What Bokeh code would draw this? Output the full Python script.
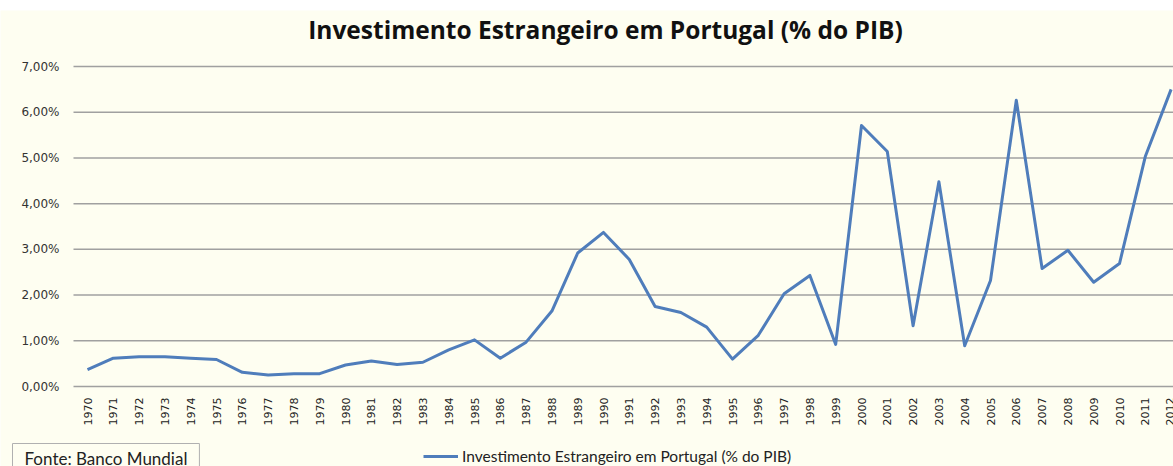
import math
from bokeh.plotting import figure
from bokeh.models import (Range1d, FixedTicker, Label, Legend, LegendItem)
from bokeh.embed import file_html
from bokeh.resources import INLINE

title_text = "Investimento Estrangeiro em Portugal (% do PIB)"
series_name = "Investimento Estrangeiro em Portugal (% do PIB)"
source_text = "Fonte: Banco Mundial"

years = list(range(1970, 2013))
values = [0.37, 0.62, 0.65, 0.65, 0.62, 0.59, 0.31, 0.25, 0.28, 0.28,
          0.47, 0.56, 0.48, 0.53, 0.80, 1.02, 0.62, 0.97, 1.65, 2.92,
          3.37, 2.78, 1.75, 1.62, 1.30, 0.60, 1.12, 2.03, 2.43, 0.92,
          5.71, 5.14, 1.33, 4.48, 0.89, 2.32, 6.26, 2.58, 2.98, 2.28,
          2.69, 5.03, 6.50]
y_ticks = [0, 1, 2, 3, 4, 5, 6, 7]
y_tick_labels = ["0,00%", "1,00%", "2,00%", "3,00%", "4,00%", "5,00%", "6,00%", "7,00%"]

BG = "#FEFEF1"
LINE = "#4F7DBB"
W, H = 1173, 466
TOP_WHITE = 10

# pixel layout of the plotting area (canvas coords)
PX_LEFT, PX_1970, PX_STEP = 73, 87, 25.8
PX_ZERO, PX_SEVEN = 386, 66
y_per_px = 7 / (PX_ZERO - PX_SEVEN)

x0 = years[0] - PX_1970 / PX_STEP
x1 = years[0] + (W - PX_1970) / PX_STEP
y0 = -(H - PX_ZERO) * y_per_px
y1 = 7 + (PX_SEVEN - TOP_WHITE) * y_per_px
x_axis_left = years[0] - (PX_1970 - PX_LEFT) / PX_STEP

p = figure(width=W, height=H, output_backend="svg", toolbar_location=None,
           x_range=Range1d(x0, x1), y_range=Range1d(y0, y1),
           min_border=0, min_border_top=TOP_WHITE)
p.background_fill_color = BG
p.border_fill_color = "white"
p.outline_line_color = None
p.xgrid.visible = False
p.ygrid.visible = False

# horizontal gridlines at the y ticks, across the plotting area only
p.segment(x0=[x_axis_left] * len(y_ticks), x1=[x1] * len(y_ticks),
          y0=y_ticks, y1=y_ticks, line_color="#A0A0A0", line_width=1.5)

r = p.line(years, values, line_color=LINE, line_width=3, line_join="round")

# axes drawn at fixed locations inside the frame
p.xaxis.fixed_location = 0
p.xaxis.ticker = FixedTicker(ticks=years)
p.xaxis.major_label_orientation = math.pi / 2
p.xaxis.axis_line_color = None
p.xaxis.major_tick_line_color = None
p.xaxis.minor_tick_line_color = None
p.xaxis.major_tick_out = 0
p.xaxis.major_tick_in = 0
p.xaxis.major_label_standoff = 11
p.xaxis.major_label_text_font = "DejaVu Sans"
p.xaxis.major_label_text_font_size = "11px"
p.xaxis.major_label_text_color = "#222222"

p.yaxis.fixed_location = x_axis_left
p.yaxis.ticker = FixedTicker(ticks=y_ticks)
p.yaxis.major_label_overrides = {t: l for t, l in zip(y_ticks, y_tick_labels)}
p.yaxis.axis_line_color = None
p.yaxis.major_tick_line_color = None
p.yaxis.minor_tick_line_color = None
p.yaxis.major_tick_out = 0
p.yaxis.major_tick_in = 0
p.yaxis.major_label_standoff = 14
p.yaxis.major_label_text_font = "DejaVu Sans"
p.yaxis.major_label_text_font_size = "12px"
p.yaxis.major_label_text_color = "#333333"

# title
p.add_layout(Label(x=605, y=H - 29, x_units="screen", y_units="screen",
                   text=title_text, text_align="center", text_baseline="middle",
                   text_font="Open Sans", text_font_style="bold", text_font_size="24.5px",
                   text_color="#111111"))

# source box
p.add_layout(Label(x=12, y=H - 443, x_units="screen", y_units="screen",
                   text=source_text, text_align="left", text_baseline="top",
                   text_font="Lato", text_font_size="17px", text_color="#222222",
                   border_line_color="#B0B0B0", border_line_width=1,
                   background_fill_color=BG,
                   padding=dict(left=12, right=12, top=4, bottom=5)))

# legend
legend = Legend(items=[LegendItem(label=series_name, renderers=[r])],
                location=(423, H - 465), orientation="horizontal",
                padding=0, margin=0, spacing=0,
                glyph_width=35, glyph_height=16, label_height=16,
                label_standoff=4,
                label_text_font="Lato", label_text_font_size="15.5px",
                label_text_color="#222222",
                border_line_color=None, background_fill_alpha=0)
p.add_layout(legend, "center")

open("out.html", "w").write(file_html(p, INLINE))
